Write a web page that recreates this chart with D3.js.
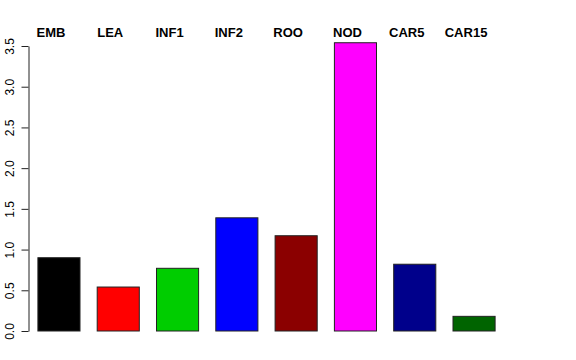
<!DOCTYPE html>
<html>
<head>
<meta charset="utf-8">
<script src="https://cdn.jsdelivr.net/npm/d3@7"></script>
<style>
  body { margin: 0; background: #fff; }
  text { font-family: "Liberation Sans", Arial, sans-serif; }
</style>
</head>
<body>
<svg width="576" height="360"></svg>
<script>
const tissues = ["EMB", "LEA", "INF1", "INF2", "ROO", "NOD", "CAR5", "CAR15"];
const values = [0.90, 0.54, 0.77, 1.39, 1.17, 3.54, 0.82, 0.18];
const colours = ["#000000", "#FF0000", "#00CD00", "#0000FF", "#8B0000", "#FF00FF", "#00008B", "#006400"];
const yTicks = [0, 0.5, 1, 1.5, 2, 2.5, 3, 3.5];

const svg = d3.select("svg");

// scales
const xScale = d3.scaleBand()
  .domain(tissues)
  .range([29.3, 29.3 + 8 * 59.3])
  .paddingInner(0.29)
  .paddingOuter(0.145);

const yScale = d3.scaleLinear()
  .domain([0, 3.5])
  .range([331, 46]);

// bars
svg.selectAll("rect.bar")
  .data(tissues)
  .enter()
  .append("rect")
    .classed("bar", true)
    .attr("x", d => xScale(d))
    .attr("y", (d, i) => yScale(values[i]))
    .attr("width", xScale.bandwidth())
    .attr("height", (d, i) => yScale(0) - yScale(values[i]))
    .style("fill", (d, i) => colours[i])
    .style("stroke", "#222")
    .style("stroke-width", 1);

// y axis
const yAxis = d3.axisLeft(yScale)
  .tickValues(yTicks)
  .tickFormat(d3.format(".1f"))
  .tickSize(7)
  .tickSizeOuter(0)
  .tickPadding(0);

const gy = svg.append("g")
  .attr("transform", "translate(28.5, 0)")
  .call(yAxis);

gy.select(".domain").attr("stroke", "#222");
gy.selectAll(".tick line").attr("stroke", "#222");
gy.selectAll(".tick text")
  .attr("x", 0)
  .attr("dy", 0)
  .attr("transform", "translate(-15, 0) rotate(-90)")
  .attr("text-anchor", "middle")
  .style("font-family", "'Liberation Sans', Arial, sans-serif")
  .style("font-size", "12px")
  .style("fill", "#000");

// category labels along the top
svg.selectAll("text.cat")
  .data(tissues)
  .enter()
  .append("text")
    .classed("cat", true)
    .attr("x", d => xScale(d) + xScale.bandwidth() / 2 - 8)
    .attr("y", 37)
    .attr("text-anchor", "middle")
    .style("font-weight", "bold")
    .style("font-size", "13px")
    .text(d => d);
</script>
</body>
</html>
